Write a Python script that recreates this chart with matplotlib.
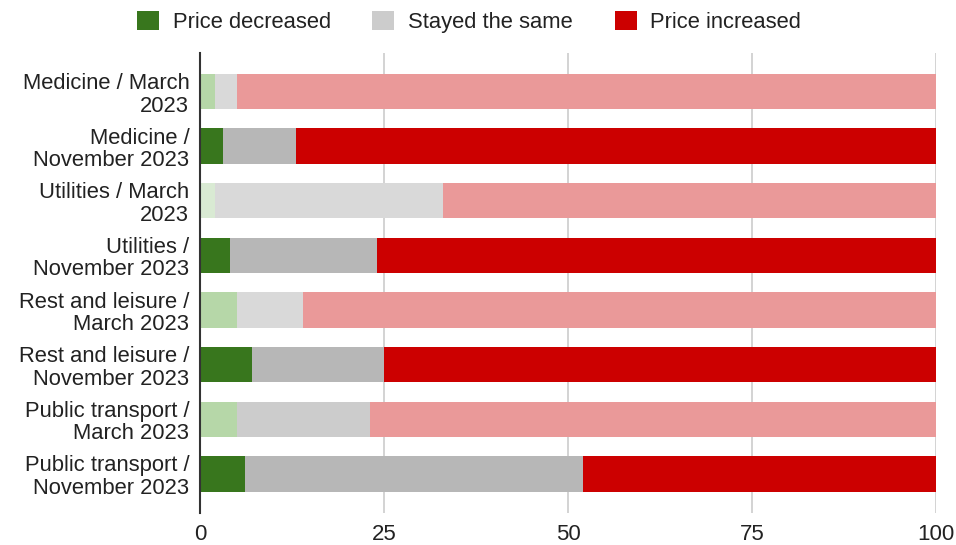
import matplotlib
matplotlib.use("Agg")
import matplotlib.pyplot as plt
from matplotlib.patches import Patch

plt.rcParams['font.family'] = ['Liberation Sans', 'DejaVu Sans']

categories = [
    "Medicine / March\n2023",
    "Medicine /\nNovember 2023",
    "Utilities / March\n2023",
    "Utilities /\nNovember 2023",
    "Rest and leisure /\nMarch 2023",
    "Rest and leisure /\nNovember 2023",
    "Public transport /\nMarch 2023",
    "Public transport /\nNovember 2023",
]
decreased = [2, 3, 2, 4, 5, 7, 5, 6]
same = [3, 10, 31, 20, 9, 18, 18, 46]
increased = [95, 87, 67, 76, 86, 75, 77, 48]

# per-bar colours: March surveys are drawn in lighter tints
green_cols = ["#b6d7a8", "#38761d", "#d9ead3", "#38761d", "#b6d7a8", "#38761d", "#b6d7a8", "#38761d"]
gray_cols = ["#d9d9d9", "#b7b7b7", "#d9d9d9", "#b7b7b7", "#d9d9d9", "#b7b7b7", "#cccccc", "#b7b7b7"]
red_cols = ["#ea9999", "#cc0000", "#ea9999", "#cc0000", "#ea9999", "#cc0000", "#ea9999", "#cc0000"]

legend_labels = ["Price decreased", "Stayed the same", "Price increased"]
legend_cols = ["#38761d", "#cccccc", "#cc0000"]
xticks = [0, 25, 50, 75, 100]

fig = plt.figure(figsize=(9.56, 5.45), dpi=100)
ax = fig.add_axes([0.2097, 0.0593, 0.979 - 0.2097, 0.9033 - 0.0593])

y = list(range(len(categories)))
h = 0.645
left2 = [a + b for a, b in zip(decreased, same)]
ax.barh(y, decreased, height=h, color=green_cols, zorder=3)
ax.barh(y, same, left=decreased, height=h, color=gray_cols, zorder=3)
ax.barh(y, increased, left=left2, height=h, color=red_cols, zorder=3)

ax.set_xlim(0, 100)
ax.set_ylim(len(categories) - 1 + 0.71, -0.71)
ax.set_yticks(y)
ax.set_yticklabels(categories, fontsize=15.8, color="#222222", linespacing=1.1)
ax.set_xticks(xticks)
ax.set_xticklabels([str(t) for t in xticks], fontsize=16, color="#222222")
ax.tick_params(axis="y", length=0, pad=8)
ax.tick_params(axis="x", length=0, pad=8)
ax.grid(axis="x", color="#cccccc", linewidth=1.2, zorder=0)

for s in ["top", "right", "bottom"]:
    ax.spines[s].set_visible(False)
ax.spines["left"].set_color("#333333")
ax.spines["left"].set_linewidth(1.5)
ax.spines["left"].set_zorder(4)

handles = [Patch(facecolor=c, edgecolor="none") for c in legend_cols]
fig.legend(handles, legend_labels, loc="center", ncol=3,
           bbox_to_anchor=(469 / 956, 1 - 22 / 545), frameon=False,
           fontsize=15.8, handlelength=1.0, handleheight=1.0,
           handletextpad=0.63, columnspacing=1.9, labelcolor="#222222")

fig.savefig("out.png", dpi=100)
